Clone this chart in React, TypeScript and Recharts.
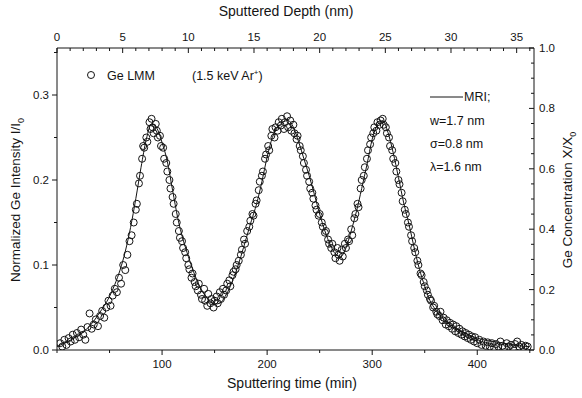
import React from "react";
import { ComposedChart, Line, Scatter, XAxis, YAxis } from "recharts";

// MRI model curve (sputtering time in min, normalized intensity)
const curveTime = [0, 5, 10, 15, 20, 25, 30, 35, 40, 45, 50, 55, 60, 65, 70, 75, 80, 85, 90, 95, 100, 105, 110, 115, 120, 125, 130, 135, 140, 145, 150, 155, 160, 165, 170, 175, 180, 185, 190, 195, 200, 205, 210, 215, 220, 225, 230, 235, 240, 245, 250, 255, 260, 265, 270, 275, 280, 285, 290, 295, 300, 305, 310, 315, 320, 325, 330, 335, 340, 345, 350, 355, 360, 365, 370, 380, 390, 400, 410, 420, 430, 440, 450];
const curveValue = [0.004, 0.007, 0.01, 0.013, 0.017, 0.021, 0.027, 0.034, 0.043, 0.052, 0.063, 0.077, 0.094, 0.116, 0.144, 0.178, 0.215, 0.248, 0.266, 0.261, 0.244, 0.222, 0.188, 0.155, 0.13, 0.11, 0.092, 0.077, 0.066, 0.058, 0.054, 0.055, 0.063, 0.075, 0.091, 0.11, 0.131, 0.152, 0.172, 0.198, 0.227, 0.25, 0.262, 0.268, 0.27, 0.262, 0.245, 0.225, 0.205, 0.183, 0.16, 0.14, 0.124, 0.113, 0.11, 0.12, 0.14, 0.163, 0.19, 0.218, 0.248, 0.265, 0.27, 0.256, 0.232, 0.203, 0.173, 0.148, 0.12, 0.095, 0.075, 0.058, 0.048, 0.04, 0.034, 0.025, 0.019, 0.014, 0.011, 0.009, 0.007, 0.005, 0.004];

// Measured Ge LMM points
const pointTime = [3, 5, 7, 9, 11, 13, 15, 17, 19, 21, 23, 25, 27, 29, 31, 33, 35, 37, 39, 41, 43, 45, 47, 49, 51, 53, 55, 57, 59, 61, 63, 65, 67, 69, 71, 73, 75, 76, 78, 79, 81, 82, 83, 85, 86, 88, 89, 90, 91, 92, 94, 95, 96, 98, 99, 101, 102, 104, 105, 107, 108, 110, 111, 113, 114, 116, 117, 119, 120, 122, 123, 125, 126, 128, 129, 131, 132, 134, 135, 137, 138, 140, 141, 143, 144, 146, 147, 149, 150, 152, 153, 155, 156, 158, 159, 161, 162, 164, 165, 167, 168, 170, 171, 173, 175, 176, 178, 179, 181, 183, 184, 186, 187, 189, 190, 192, 193, 195, 196, 198, 199, 201, 202, 204, 205, 207, 208, 210, 211, 213, 214, 216, 217, 219, 220, 222, 223, 225, 226, 228, 229, 231, 232, 234, 235, 237, 238, 240, 241, 243, 244, 246, 247, 249, 250, 252, 253, 255, 256, 258, 259, 261, 262, 264, 265, 267, 268, 269, 271, 272, 274, 275, 277, 278, 280, 281, 283, 284, 286, 287, 289, 290, 292, 293, 295, 296, 298, 299, 301, 302, 304, 305, 307, 308, 310, 311, 313, 314, 316, 317, 319, 320, 322, 323, 325, 326, 328, 329, 331, 332, 334, 335, 337, 338, 340, 341, 343, 344, 346, 347, 349, 350, 352, 353, 355, 356, 358, 359, 361, 362, 364, 365, 367, 368, 370, 371, 373, 374, 376, 377, 379, 380, 382, 383, 385, 386, 388, 389, 391, 392, 394, 395, 397, 398, 400, 402, 404, 406, 408, 410, 412, 414, 416, 418, 420, 422, 424, 426, 428, 430, 432, 434, 436, 438, 440, 442, 444, 446, 448];
const pointValue = [0.008, 0.004, 0.012, 0.006, 0.014, 0.01, 0.018, 0.012, 0.02, 0.015, 0.024, 0.018, 0.012, 0.027, 0.043, 0.025, 0.03, 0.036, 0.028, 0.04, 0.046, 0.038, 0.05, 0.058, 0.052, 0.064, 0.072, 0.068, 0.085, 0.078, 0.1, 0.094, 0.112, 0.128, 0.135, 0.15, 0.165, 0.172, 0.196, 0.205, 0.225, 0.24, 0.238, 0.25, 0.245, 0.268, 0.26, 0.272, 0.262, 0.255, 0.266, 0.258, 0.25, 0.252, 0.24, 0.238, 0.225, 0.22, 0.21, 0.2, 0.19, 0.18, 0.172, 0.16, 0.15, 0.14, 0.132, 0.128, 0.12, 0.115, 0.108, 0.1, 0.095, 0.085, 0.09, 0.08, 0.075, 0.07, 0.078, 0.065, 0.06, 0.072, 0.058, 0.052, 0.066, 0.055, 0.06, 0.05, 0.058, 0.063, 0.055, 0.068, 0.06, 0.072, 0.065, 0.07, 0.078, 0.082, 0.075, 0.088, 0.092, 0.095, 0.1, 0.105, 0.112, 0.118, 0.13, 0.125, 0.14, 0.145, 0.152, 0.16, 0.158, 0.172, 0.176, 0.188, 0.198, 0.205, 0.21, 0.225, 0.23, 0.24, 0.235, 0.252, 0.26, 0.25, 0.262, 0.258, 0.268, 0.264, 0.272, 0.26, 0.268, 0.275, 0.262, 0.27, 0.258, 0.265, 0.255, 0.248, 0.252, 0.24, 0.235, 0.228, 0.22, 0.212, 0.205, 0.198, 0.19, 0.185, 0.178, 0.17, 0.165, 0.158, 0.16, 0.15, 0.145, 0.138, 0.14, 0.13, 0.125, 0.12, 0.125, 0.115, 0.108, 0.12, 0.112, 0.105, 0.118, 0.11, 0.125, 0.12, 0.13, 0.128, 0.142, 0.135, 0.155, 0.16, 0.172, 0.168, 0.19, 0.2, 0.205, 0.215, 0.225, 0.235, 0.242, 0.25, 0.255, 0.262, 0.258, 0.268, 0.265, 0.27, 0.272, 0.265, 0.262, 0.255, 0.25, 0.24, 0.235, 0.225, 0.22, 0.21, 0.2, 0.195, 0.185, 0.175, 0.165, 0.16, 0.15, 0.145, 0.135, 0.128, 0.12, 0.115, 0.105, 0.1, 0.09, 0.088, 0.08, 0.075, 0.07, 0.065, 0.06, 0.058, 0.05, 0.052, 0.045, 0.042, 0.04, 0.045, 0.035, 0.038, 0.03, 0.035, 0.028, 0.032, 0.025, 0.03, 0.022, 0.028, 0.02, 0.025, 0.018, 0.022, 0.016, 0.02, 0.014, 0.018, 0.012, 0.016, 0.01, 0.015, 0.008, 0.012, 0.006, 0.01, 0.005, 0.009, 0.004, 0.008, 0.003, 0.007, 0.004, 0.01, 0.005, 0.003, 0.008, 0.004, 0.006, 0.002, 0.007, 0.01, 0.004, 0.006, 0.003, 0.005, 0.004];

// Sputter rate linking time (min) to depth (nm)
const sputterRate = 0.08;
const timeMax = 454;

// Axis ticks
const timeTicks = [0, 50, 100, 150, 200, 250, 300, 350, 400, 450];
const timeLabels = [100, 200, 300, 400];
const depthTicks = [0, 1, 2, 3, 4, 5, 6, 7, 8, 9, 10, 11, 12, 13, 14, 15, 16, 17, 18, 19, 20, 21, 22, 23, 24, 25, 26, 27, 28, 29, 30, 31, 32, 33, 34, 35, 36];
const depthLabels = [0, 5, 10, 15, 20, 25, 30, 35];
const intensityTicks = [0, 0.05, 0.1, 0.15, 0.2, 0.25, 0.3, 0.35];
const intensityLabels = ["0.0", "0.1", "0.2", "0.3"];
const concTicks = [0, 0.05, 0.1, 0.15, 0.2, 0.25, 0.3, 0.35, 0.4, 0.45, 0.5, 0.55, 0.6, 0.65, 0.7, 0.75, 0.8, 0.85, 0.9, 0.95, 1.0];
const concLabels = ["0.0", "0.2", "0.4", "0.6", "0.8", "1.0"];

const curveData = curveTime.map((t, i) => ({ t, v: curveValue[i] }));
const depthData = curveTime.map((t, i) => ({ d: t * sputterRate, v: curveValue[i] }));
const pointData = pointTime.map((t, i) => ({ t, v: pointValue[i] }));

const FONT = "'Liberation Sans', Arial, Helvetica, sans-serif";
const INK = "#141414";

const BottomTick = (p: any) => {
  const v = p.payload.value;
  const major = timeLabels.includes(v);
  return (
    <g>
      <line x1={p.x} x2={p.x} y1={p.y} y2={p.y + (major ? 5 : 3)} stroke={INK} strokeWidth={1} />
      {major && (
        <text x={p.x} y={p.y + 18} textAnchor="middle" fontSize={11.5} fontFamily={FONT} fill={INK}>
          {String(v)}
        </text>
      )}
    </g>
  );
};

const TopTick = (p: any) => {
  const v = p.payload.value;
  const major = depthLabels.includes(v);
  return (
    <g>
      <line x1={p.x} x2={p.x} y1={p.y} y2={p.y + (major ? 5 : 3)} stroke={INK} strokeWidth={1} />
      {major && (
        <text x={p.x} y={p.y - 7} textAnchor="middle" fontSize={11.5} fontFamily={FONT} fill={INK}>
          {String(v)}
        </text>
      )}
    </g>
  );
};

const LeftTick = (p: any) => {
  const v = p.payload.value;
  const label = v.toFixed(1);
  const major = intensityLabels.includes(label) && Math.abs(v * 10 - Math.round(v * 10)) < 1e-6;
  return (
    <g>
      <line x1={p.x - (major ? 5 : 3)} x2={p.x} y1={p.y} y2={p.y} stroke={INK} strokeWidth={1} />
      {major && (
        <text x={p.x - 8} y={p.y + 4} textAnchor="end" fontSize={11.5} fontFamily={FONT} fill={INK}>
          {label}
        </text>
      )}
    </g>
  );
};

const RightTick = (p: any) => {
  const v = p.payload.value;
  const label = v.toFixed(1);
  const major = Math.abs(v * 5 - Math.round(v * 5)) < 1e-6 && concLabels.includes(label);
  return (
    <g>
      <line x1={p.x - (major ? 5 : 3)} x2={p.x} y1={p.y} y2={p.y} stroke={INK} strokeWidth={1} />
      {major && (
        <text x={p.x + 5} y={p.y + 4} textAnchor="start" fontSize={11.5} fontFamily={FONT} fill={INK}>
          {label}
        </text>
      )}
    </g>
  );
};

const OpenCircle = (p: any) => (
  <circle cx={p.cx} cy={p.cy} r={3.5} fill="none" stroke={INK} strokeWidth={1} />
);

export default function App() {
  return (
    <div style={{ position: "absolute", left: 0, top: 0, width: 582, height: 398, background: "#fff" }}>
      <ComposedChart width={582} height={398} margin={{ top: 0, right: 0, bottom: 0, left: 0 }}>
        <XAxis
          xAxisId="t"
          dataKey="t"
          type="number"
          domain={[0, timeMax]}
          ticks={timeTicks}
          allowDataOverflow
          orientation="bottom"
          height={48}
          tickSize={0}
          tickMargin={0}
          tickLine={false}
          axisLine={{ stroke: INK }}
          tick={BottomTick}
          interval={0}
        />
        <XAxis
          xAxisId="d"
          dataKey="d"
          type="number"
          domain={[0, timeMax * sputterRate]}
          ticks={depthTicks}
          allowDataOverflow
          orientation="top"
          height={48}
          tickSize={0}
          tickMargin={0}
          tickLine={false}
          axisLine={{ stroke: INK }}
          tick={TopTick}
          interval={0}
        />
        <YAxis
          yAxisId="i"
          type="number"
          domain={[0, 0.3553]}
          ticks={intensityTicks}
          allowDataOverflow
          orientation="left"
          width={57}
          tickSize={0}
          tickMargin={0}
          tickLine={false}
          axisLine={{ stroke: INK }}
          tick={LeftTick}
          interval={0}
        />
        <YAxis
          yAxisId="c"
          type="number"
          domain={[0, 1]}
          ticks={concTicks}
          allowDataOverflow
          orientation="right"
          width={48}
          tickSize={0}
          tickMargin={0}
          tickLine={false}
          axisLine={{ stroke: INK }}
          tick={RightTick}
          interval={0}
        />
        <Line
          xAxisId="d"
          yAxisId="i"
          data={depthData}
          dataKey="v"
          type="monotone"
          stroke="none"
          strokeOpacity={0}
          dot={false}
          activeDot={false}
          isAnimationActive={false}
        />
        <Line
          xAxisId="t"
          yAxisId="i"
          data={curveData}
          dataKey="v"
          type="monotone"
          stroke={INK}
          strokeWidth={1}
          dot={false}
          isAnimationActive={false}
        />
        <Scatter
          xAxisId="t"
          yAxisId="i"
          data={pointData}
          dataKey="v"
          shape={OpenCircle}
          isAnimationActive={false}
        />
      </ComposedChart>
      <svg
        width={582}
        height={398}
        style={{ position: "absolute", left: 0, top: 0, pointerEvents: "none" }}
        fontFamily={FONT}
        fill={INK}
      >
        <text x={286} y={16} textAnchor="middle" fontSize={14}>Sputtered Depth (nm)</text>
        <text x={292} y={388} textAnchor="middle" fontSize={14}>Sputtering time (min)</text>
        <text transform="translate(20,200) rotate(-90)" textAnchor="middle" fontSize={13.5}>
          Normalized Ge Intensity I/I<tspan fontSize={9} dy={4}>0</tspan>
        </text>
        <text transform="translate(572,200) rotate(-90)" textAnchor="middle" fontSize={13.5}>
          Ge Concentration X/X<tspan fontSize={9} dy={4}>0</tspan>
        </text>
        <circle cx={91} cy={75} r={3.5} fill="none" stroke={INK} strokeWidth={1} />
        <text x={107} y={80} fontSize={12.5}>Ge LMM</text>
        <text x={192} y={80} fontSize={12.5}>
          (1.5 keV Ar<tspan fontSize={8} dy={-5}>+</tspan><tspan dy={5}>)</tspan>
        </text>
        <line x1={430} x2={463} y1={97} y2={97} stroke={INK} strokeWidth={1} />
        <text x={464} y={101} fontSize={12.5}>MRI;</text>
        <text x={430} y={125} fontSize={12.5}>w=1.7 nm</text>
        <text x={430} y={148} fontSize={12.5}>σ=0.8 nm</text>
        <text x={430} y={171} fontSize={12.5}>λ=1.6 nm</text>
      </svg>
    </div>
  );
}
